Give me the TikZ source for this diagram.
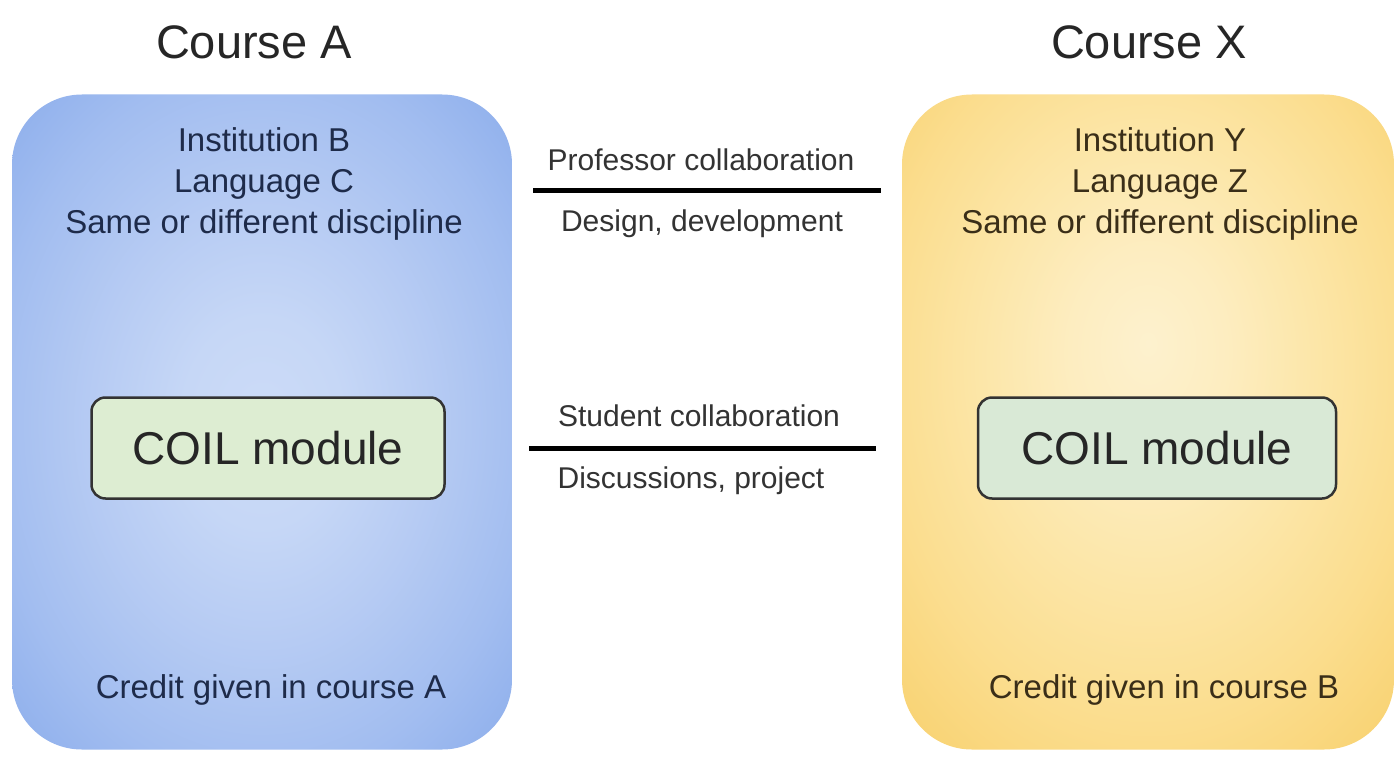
\documentclass[tikz,border=0pt]{standalone}
\usepackage{fontspec}
\setmainfont{Liberation Sans}
\pgfdeclareradialshading{panelblue}{\pgfpoint{0bp}{0bp}}{%
  rgb(0bp)=(0.80,0.859,0.969);
  rgb(8bp)=(0.776,0.843,0.965);
  rgb(17bp)=(0.714,0.796,0.953);
  rgb(27bp)=(0.635,0.741,0.941);
  rgb(35bp)=(0.557,0.686,0.925);
  rgb(42bp)=(0.510,0.651,0.910);
  rgb(50bp)=(0.478,0.627,0.902);
  rgb(70bp)=(0.478,0.627,0.902)}
\pgfdeclareradialshading{panelyellow}{\pgfpoint{0bp}{6bp}}{%
  rgb(0bp)=(0.992,0.945,0.808);
  rgb(8bp)=(0.992,0.929,0.753);
  rgb(17bp)=(0.988,0.902,0.659);
  rgb(27bp)=(0.984,0.867,0.557);
  rgb(35bp)=(0.976,0.831,0.463);
  rgb(42bp)=(0.969,0.804,0.384);
  rgb(50bp)=(0.961,0.788,0.345);
  rgb(70bp)=(0.961,0.788,0.345)}
\begin{document}
\begin{tikzpicture}[x=1pt,y=-1pt,
  panel/.style={rounded corners=70pt, minimum width=#1, minimum height=655pt, inner sep=0pt},
  coil/.style={draw=black!80, line width=2.5pt, rounded corners=14pt, minimum height=101pt, inner sep=0pt,
               font=\fontsize{46}{48}\selectfont},
  title/.style={font=\fontsize{47}{50}\selectfont, text=black!85},
  info/.style={font=\fontsize{33}{41}\selectfont, align=center},
  mid/.style={font=\fontsize{30}{34}\selectfont, text=black!80},
  link/.style={line width=5pt, black}
]
\useasboundingbox (0,0) rectangle (1397,757);
\fill[white] (0,0) rectangle (1397,757);

\definecolor{navytext}{HTML}{1E2B4A}
\definecolor{browntext}{HTML}{3A2E18}
\definecolor{greenA}{HTML}{DDEDD2}
\definecolor{greenX}{HTML}{D9E9D6}

% panel shadings
\begin{scope}
  \clip[rounded corners=70pt] (12,94.5) rectangle (512,749.5);
  \begin{scope}[transform canvas={shift={(262,422)}, xscale=5.0, yscale=6.55}]
    \shade[shading=panelblue] (-50bp,-50bp) rectangle (50bp,50bp);
  \end{scope}
\end{scope}
\begin{scope}
  \clip[rounded corners=70pt] (902,94.5) rectangle (1394,749.5);
  \begin{scope}[transform canvas={shift={(1148,422)}, xscale=4.92, yscale=6.55}]
    \shade[shading=panelyellow] (-50bp,-50bp) rectangle (50bp,50bp);
  \end{scope}
\end{scope}

% panels (named shapes)
\node[panel=500pt] (pa) at (262,422) {};
\node[panel=492pt] (px) at (1148,422) {};

% titles
\node[title] (ta) at (254,42) {Course A};
\node[title] (tx) at (1149,42) {Course X};

% info texts
\node[info, text=navytext] (ia) at (264,184) {Institution B\\Language C\\Same or different discipline};
\node[info, text=browntext] (ix) at (1160,184) {Institution Y\\Language Z\\Same or different discipline};

% COIL modules
\node[coil, fill=greenA, minimum width=353pt, text=black!85] (ca) at (268,448) {COIL module};
\node[coil, fill=greenX, minimum width=358pt, text=black!85] (cx) at (1157,448) {COIL module};

% credit
\node[info, text=navytext] (cra) at (271,690) {Credit given in course A};
\node[info, text=browntext] (crx) at (1164,690) {Credit given in course B};

% connectors
\coordinate (l1a) at (533,190);
\coordinate (l1b) at (881,190);
\coordinate (l2a) at (529,448);
\coordinate (l2b) at (876,448);
\draw[link] (l1a) -- (l1b);
\draw[link] (l2a) -- (l2b);

\node[mid] (m1) at (701,160) {Professor collaboration};
\node[mid] (m2) at (702,224) {Design, development};
\node[mid] (m3) at (699,416) {Student collaboration};
\node[mid] (m4) at (691,481) {Discussions, project};
\end{tikzpicture}
\end{document}
